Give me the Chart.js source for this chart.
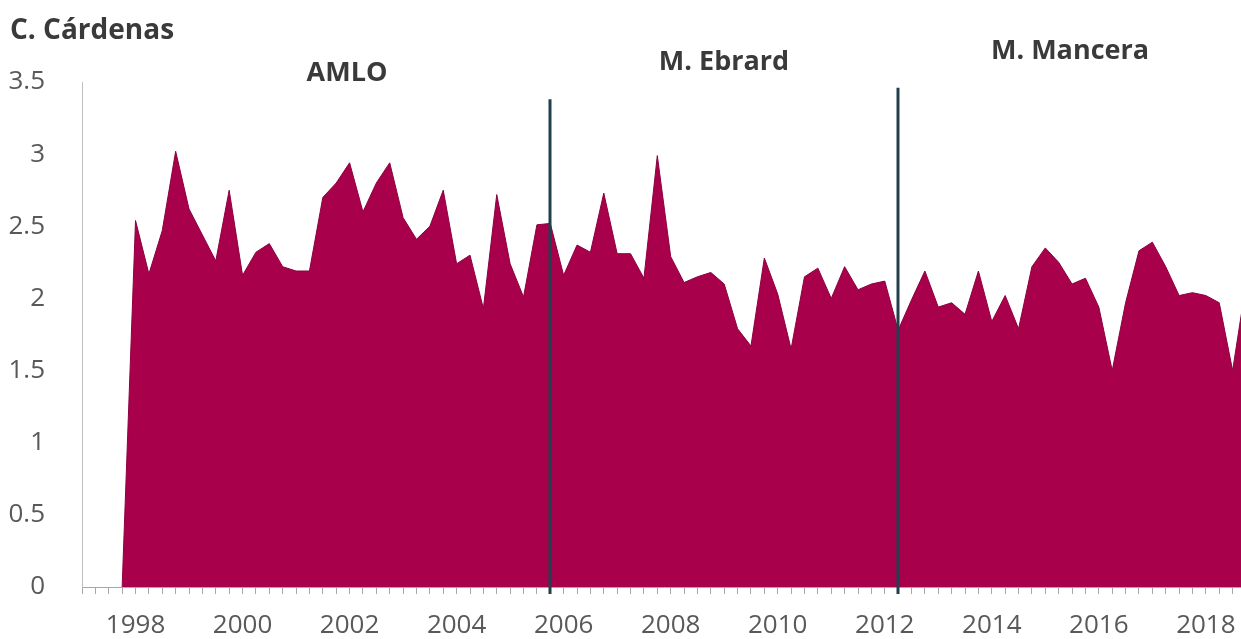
<!DOCTYPE html>
<html>

<head>
  <meta charset="utf-8">
  <title>C. Cárdenas</title>
  <script src="https://cdn.jsdelivr.net/npm/chart.js@4.4.0/dist/chart.umd.min.js"></script>
  <style>
    html, body { margin: 0; padding: 0; overflow: hidden; background: #ffffff; }
    #chartBox { width: 1262px; height: 639px; }
  </style>
</head>

<body>
  <div id="chartBox">
    <canvas id="myChart" width="1262" height="639"></canvas>
  </div>

  <script>
    // quarterly series, 1997 T1 .. 2018 T4
    const firstYear = 1997;
    const lastYear = 2018;
    const quarterNames = ['T1', 'T2', 'T3', 'T4'];

    // values (1997 has no data, the series starts in 1998 T1)
    const values1997 = [null, null, null, 0];
    const values1998to2002 = [
      2.54, 2.17, 2.47, 3.02,
      2.62, 2.44, 2.26, 2.75,
      2.16, 2.32, 2.38, 2.22,
      2.19, 2.19, 2.70, 2.80,
      2.94, 2.60, 2.80, 2.94
    ];
    const values2003to2007 = [
      2.56, 2.41, 2.50, 2.75,
      2.24, 2.30, 1.93, 2.72,
      2.24, 2.01, 2.51, 2.52,
      2.16, 2.37, 2.32, 2.73,
      2.31, 2.31, 2.14, 2.99
    ];
    const values2008to2012 = [
      2.29, 2.11, 2.15, 2.18,
      2.10, 1.79, 1.67, 2.28,
      2.03, 1.65, 2.15, 2.21,
      2.00, 2.22, 2.06, 2.10,
      2.12, 1.78, 1.99, 2.19
    ];
    const values2013to2018 = [
      1.94, 1.97, 1.89, 2.19,
      1.84, 2.02, 1.79, 2.22,
      2.35, 2.25, 2.10, 2.14,
      1.94, 1.50, 1.97, 2.33,
      2.39, 2.22, 2.02, 2.04,
      2.02, 1.97, 1.50, 2.10
    ];

    const yTicks = [0, 0.5, 1, 1.5, 2, 2.5, 3, 3.5];
    const labelYears = [1998, 2000, 2002, 2004, 2006, 2008, 2010, 2012, 2014, 2016, 2018];

    // change of head of government
    const periodNames = ['AMLO', 'M. Ebrard', 'M. Mancera'];
    const markerQuarters = ['2005T4', '2012T2'];
    const markerTops = [3.38, 3.46];

    const titleText = 'C. Cárdenas';

    const quarterLabels = [];
    for (let y = firstYear; y <= lastYear; y++) {
      quarterNames.forEach(q => quarterLabels.push(y + q));
    }
    const seriesValues = values1997.concat(values1998to2002, values2003to2007, values2008to2012, values2013to2018);

    const fontFamily = "'Open Sans', 'Noto Sans', sans-serif";

    // title, period names and the two vertical marker lines
    const notesPlugin = {
      id: 'notes',
      afterDatasetsDraw(chart) {
        const ctx = chart.ctx;
        const xs = chart.scales.x;
        const ys = chart.scales.y;

        ctx.save();
        ctx.strokeStyle = '#223f4f';
        ctx.lineWidth = 3;
        markerQuarters.forEach((q, i) => {
          const x = Math.round(xs.getPixelForValue(quarterLabels.indexOf(q)));
          ctx.beginPath();
          ctx.moveTo(x, ys.getPixelForValue(markerTops[i]));
          ctx.lineTo(x, ys.bottom + 7);
          ctx.stroke();
        });

        ctx.fillStyle = '#3a3a3a';
        ctx.textBaseline = 'alphabetic';
        ctx.font = 'bold 28px ' + fontFamily;
        ctx.textAlign = 'left';
        ctx.fillText(titleText, 10, 39);

        ctx.font = 'bold 27px ' + fontFamily;
        ctx.textAlign = 'center';
        const namePos = [[347, 81], [724, 70], [1070, 59]];
        periodNames.forEach((name, i) => {
          ctx.fillText(name, namePos[i][0], namePos[i][1]);
        });
        ctx.restore();
      }
    };

    const ctx = document.getElementById('myChart').getContext('2d');
    const myChart = new Chart(ctx, {
      type: 'line',
      data: {
        labels: quarterLabels,
        datasets: [{
          label: titleText,
          data: seriesValues,
          fill: 'origin',
          backgroundColor: '#a9004b',
          borderColor: '#8c0040',
          borderWidth: 1,
          pointRadius: 0,
          tension: 0
        }]
      },
      options: {
        responsive: false,
        animation: false,
        layout: {
          padding: { top: 82, right: 14, left: 0, bottom: 0 }
        },
        plugins: {
          legend: { display: false },
          tooltip: { enabled: false }
        },
        scales: {
          x: {
            type: 'category',
            offset: false,
            grid: {
              display: true,
              drawOnChartArea: false,
              drawTicks: true,
              tickLength: 7,
              color: '#a6a6a6',
              lineWidth: 1
            },
            border: { display: true, color: '#a6a6a6', width: 1 },
            ticks: {
              autoSkip: false,
              maxRotation: 0,
              padding: 16,
              color: '#595959',
              font: { family: fontFamily, size: 26 },
              callback: function (value, index) {
                const lab = quarterLabels[index];
                const yr = parseInt(lab.slice(0, 4));
                if (lab.endsWith('T1') && labelYears.includes(yr)) {
                  return String(yr);
                }
                return '';
              }
            },
            afterFit: function (scale) { scale.height = 52; }
          },
          y: {
            min: 0,
            max: 3.5,
            grid: { display: false },
            border: { display: true, color: '#bfbfbf', width: 1 },
            afterBuildTicks: function (scale) {
              scale.ticks = yTicks.map(v => ({ value: v }));
            },
            ticks: {
              padding: 29,
              color: '#595959',
              font: { family: fontFamily, size: 26 },
              callback: function (value) { return String(value); }
            },
            afterFit: function (scale) { scale.width = 82; }
          }
        }
      },
      plugins: [notesPlugin]
    });
  </script>
</body>

</html>
